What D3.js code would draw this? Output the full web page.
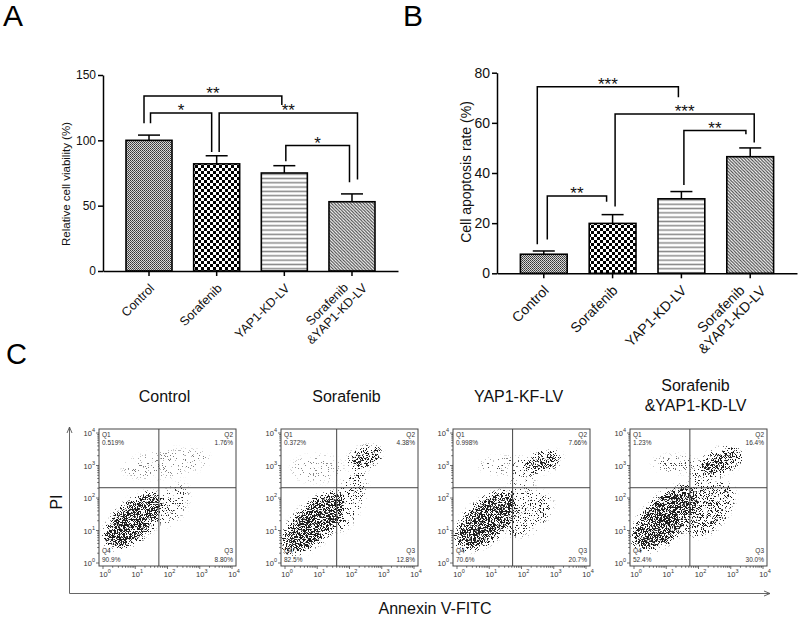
<!DOCTYPE html>
<html>
<head>
<meta charset="utf-8">
<script src="https://cdn.jsdelivr.net/npm/d3@7"></script>
<style>
  body { margin: 0; background: #fff; }
  svg { display: block; font-family: "Liberation Sans", Arial, sans-serif; }
</style>
</head>
<body>
<div id="fig"></div>
<script>
// ---- data ----
const groups = ["Control", "Sorafenib", "YAP1-KD-LV", "Sorafenib\n&YAP1-KD-LV"];

const viability = [100, 82, 75, 53];
const viabilityErr = [4, 6.2, 5.6, 6];
const viabilityTicks = [0, 50, 100, 150];

const apoptosis = [7.6, 19.9, 29.7, 46.5];
const apoptosisErr = [1.3, 3.5, 2.9, 3.5];
const apoptosisTicks = [0, 20, 40, 60, 80];

// significance brackets: [from, to, bracket level, left leg end, right leg end, label]
const viabilitySig = [
  [0, 2, 134, 113, 127, "**"],
  [0, 1, 121, 113, 91, "*"],
  [1, 3, 121, 91, 70, "**"],
  [2, 3, 96, 84, 68, "*"]
];
const apoptosisSig = [
  [0, 2, 74.4, 11.6, 70.2, "***"],
  [1, 3, 63.5, 26.6, 52.2, "***"],
  [2, 3, 56.9, 35.2, 55.5, "**"],
  [0, 1, 30.8, 13.5, 28.5, "**"]
];

// flow cytometry panels
const flowTitles = ["Control", "Sorafenib", "YAP1-KF-LV", "Sorafenib\n&YAP1-KD-LV"];
// quadrant percentages: Q1, Q2, Q3, Q4
const quadrantPct = [
  ["0.519%", "1.76%", "8.80%", "90.9%"],
  ["0.372%", "4.38%", "12.8%", "82.5%"],
  ["0.998%", "7.66%", "20.7%", "70.6%"],
  ["1.23%", "16.4%", "30.0%", "52.4%"]
];
const gateAnnexin = [54, 40, 53, 54];
const gatePI = [207, 207, 207, 207];
const flowTicks = [1, 10, 100, 1000, 10000];

// populations, in decades: [log Annexin centre, log PI centre, half length, half width, tilt deg, density]
const populations = [
  [[0.95, 1.3, 1.1, 0.55, 42, 1.0], [0.75, 1.1, 0.6, 0.35, 42, 0.3],
   [2.15, 1.8, 0.7, 0.4, 60, 0.38], [1.95, 3.05, 1.35, 0.4, 8, 0.25]],
  [[0.88, 1.22, 1.2, 0.55, 44, 1.0], [0.78, 1.05, 0.6, 0.35, 44, 0.3],
   [2.0, 1.94, 1.0, 0.38, 70, 0.5], [2.48, 3.25, 0.5, 0.28, 20, 0.9],
   [1.0, 2.9, 0.8, 0.4, 0, 0.22]],
  [[0.91, 1.3, 1.15, 0.58, 42, 1.0], [0.8, 1.2, 0.6, 0.35, 42, 0.3],
   [2.2, 1.5, 0.85, 0.5, 40, 0.55], [2.67, 3.12, 0.55, 0.27, 15, 0.85],
   [1.7, 3.0, 1.0, 0.25, 0, 0.35], [2.0, 2.4, 0.55, 0.35, 70, 0.35]],
  [[0.96, 1.37, 1.25, 0.62, 45, 1.0], [0.9, 1.3, 0.65, 0.35, 45, 0.3],
   [2.36, 1.63, 0.95, 0.5, 50, 0.75], [2.72, 3.15, 0.65, 0.33, 20, 0.9],
   [2.2, 2.6, 0.6, 0.4, 60, 0.55], [1.3, 3.05, 0.7, 0.25, 0, 0.35]]
];

// ---- drawing ----
const W = 800, H = 617;
const svg = d3.select("#fig").append("svg").attr("width", W).attr("height", H);
const defs = svg.append("defs");

// bar fill patterns
function pattern(id, size, build) {
  const p = defs.append("pattern").attr("id", id).attr("patternUnits", "userSpaceOnUse")
    .attr("width", size).attr("height", size);
  build(p);
}
pattern("pCtrl", 2, p => {
  p.append("rect").attr("width", 2).attr("height", 2).attr("fill", "#d8d8d8");
  p.append("rect").attr("width", 1).attr("height", 1).attr("fill", "#333");
  p.append("rect").attr("x", 1).attr("y", 1).attr("width", 1).attr("height", 1).attr("fill", "#555");
});
pattern("pSora", 6, p => {
  p.append("rect").attr("width", 6).attr("height", 6).attr("fill", "#fff");
  p.append("rect").attr("width", 3).attr("height", 3).attr("fill", "#000");
  p.append("rect").attr("x", 3).attr("y", 3).attr("width", 3).attr("height", 3).attr("fill", "#000");
});
pattern("pYap", 4.3, p => {
  p.append("rect").attr("width", 4.3).attr("height", 4.3).attr("fill", "#fff");
  p.append("rect").attr("y", 1.4).attr("width", 4.3).attr("height", 1.5).attr("fill", "#888");
});
pattern("pBoth", 3.2, p => {
  p.append("rect").attr("width", 3.2).attr("height", 3.2).attr("fill", "#fff");
  p.append("path").attr("d", "M-1,-1L4.2,4.2M-1,2.2L1,4.2M2.2,-1L4.2,1")
    .attr("stroke", "#444").attr("stroke-width", 1.1);
});
const fills = ["url(#pCtrl)", "url(#pSora)", "url(#pYap)", "url(#pBoth)"];

svg.append("g").selectAll("text")
  .data([["A", 3, 26, 30], ["B", 403, 26, 30], ["C", 6, 364, 29]])
  .join("text")
  .attr("x", d => d[1]).attr("y", d => d[2])
  .attr("font-size", d => d[3]).text(d => d[0]);

function barChart(opt) {
  const g = svg.append("g");
  const x = d3.scaleBand().domain(groups).range(opt.xRange)
    .paddingInner(0.32).paddingOuter(0.34);
  const y = d3.scaleLinear().domain([0, d3.max(opt.ticks)]).range(opt.yRange);
  const bw = x.bandwidth();
  const cx = i => x(groups[i]) + bw / 2;

  // bars
  g.selectAll("rect.bar").data(opt.values).join("rect")
    .attr("class", "bar")
    .attr("x", (d, i) => x(groups[i])).attr("width", bw)
    .attr("y", d => y(d)).attr("height", d => y(0) - y(d))
    .attr("fill", (d, i) => fills[i])
    .attr("stroke", "#000").attr("stroke-width", 1.6);

  // error bars (upper only)
  const eb = g.selectAll("g.err").data(opt.values).join("g").attr("class", "err")
    .attr("stroke", "#000").attr("stroke-width", 1.5);
  eb.append("line").attr("x1", (d, i) => cx(i)).attr("x2", (d, i) => cx(i))
    .attr("y1", d => y(d)).attr("y2", (d, i) => y(d + opt.err[i]));
  eb.append("line").attr("x1", (d, i) => cx(i) - 11).attr("x2", (d, i) => cx(i) + 11)
    .attr("y1", (d, i) => y(d + opt.err[i])).attr("y2", (d, i) => y(d + opt.err[i]));

  // axes
  const ya = g.append("g").attr("transform", `translate(${opt.xRange[0]},0)`)
    .call(d3.axisLeft(y).tickValues(opt.ticks).tickSize(5).tickSizeOuter(0).tickPadding(2));
  const xa = g.append("g").attr("transform", `translate(0,${y(0)})`)
    .call(d3.axisBottom(x).tickSize(5).tickSizeOuter(0).tickFormat(""));
  [ya, xa].forEach(a => {
    a.selectAll("path,line").attr("stroke", "#000").attr("stroke-width", 1.5);
    a.selectAll("text").attr("font-size", opt.tickFont).attr("fill", "#111")
      .attr("font-family", "Liberation Sans, Arial, sans-serif");
  });

  // rotated category labels
  groups.forEach((name, i) => {
    const lines = name.split("\n");
    const lh = opt.labelFont * 1.1;
    const off = (lines.length - 1) * lh / 2;
    const t = g.append("g")
      .attr("transform", `translate(${cx(i) + 6},${y(0) + opt.labelDy}) rotate(-45)`);
    const texts = lines.map((s, k) => t.append("text")
      .attr("y", k * lh - off).attr("font-size", opt.labelFont).attr("fill", "#111").text(s));
    const wm = d3.max(texts, tx => tx.node().getComputedTextLength());
    const shift = lines.length > 1 ? 7 : 0;
    texts.forEach(tx => tx.attr("x", -wm / 2 + shift).attr("text-anchor", "middle"));
  });

  // y title
  g.append("text")
    .attr("transform", `translate(${opt.titleX},${opt.titleY}) rotate(-90)`)
    .attr("text-anchor", "middle").attr("font-size", opt.titleFont).attr("fill", "#111")
    .text(opt.title);

  // significance brackets
  opt.sig.forEach((s, k) => {
    const [a, b, lvl, endA, endB, lab] = s;
    const xa0 = cx(a) + opt.legShift[k][0], xb0 = cx(b) + opt.legShift[k][1];
    g.append("path")
      .attr("d", `M${xa0},${y(endA)}V${y(lvl)}H${xb0}V${y(endB)}`)
      .attr("fill", "none").attr("stroke", "#000").attr("stroke-width", 1.5);
    g.append("text").attr("x", (xa0 + xb0) / 2).attr("y", y(lvl) + 3)
      .attr("text-anchor", "middle").attr("font-size", 17).attr("fill", "#111").text(lab);
  });
}

barChart({
  values: viability, err: viabilityErr, ticks: viabilityTicks, sig: viabilitySig,
  xRange: [103, 398], yRange: [271, 75],
  legShift: [[-5, -2.5], [1.5, -5], [2.5, 5.5], [1.5, -2.5]],
  tickFont: 12, labelFont: 12.5, labelDy: 18, titleFont: 11.5, titleX: 70, titleY: 184,
  title: "Relative cell viability (%)"
});
barChart({
  values: apoptosis, err: apoptosisErr, ticks: apoptosisTicks, sig: apoptosisSig,
  xRange: [497, 797], yRange: [273.3, 72.7],
  legShift: [[-6.5, -3], [2.5, 4], [2.5, -4.3], [3.5, -6]],
  tickFont: 14, labelFont: 14, labelDy: 18, titleFont: 14, titleX: 471, titleY: 172,
  title: "Cell apoptosis rate (%)"
});

// ---- panel C: flow cytometry ----
const boxLeft = [99, 281, 453, 630];
const boxW = 137, boxTop = 429, boxBottom = 566;

flowTitles.forEach((title, i) => {
  const L = boxLeft[i], R = L + boxW;
  const g = svg.append("g");
  const x = d3.scaleLog().domain([1, 1e4]).range([L + 4, L + 133]);
  const y = d3.scaleLog().domain([1, 1e4]).range([563, 433]);
  const pxX = (x(10) - x(1)), pxY = (y(1) - y(10));

  // stippled dot-cloud filter: blurred density shapes thresholded against noise
  const f = defs.append("filter").attr("id", "dots" + i)
    .attr("filterUnits", "userSpaceOnUse").attr("primitiveUnits", "userSpaceOnUse")
    .attr("x", L).attr("y", boxTop).attr("width", boxW).attr("height", boxBottom - boxTop)
    .attr("color-interpolation-filters", "sRGB");
  f.append("feGaussianBlur").attr("in", "SourceAlpha").attr("stdDeviation", 2.5).attr("result", "soft");
  f.append("feTurbulence").attr("type", "fractalNoise").attr("baseFrequency", 1.4)
    .attr("numOctaves", 1).attr("seed", 3 + i * 11).attr("result", "noise0");
  f.append("feComponentTransfer").attr("in", "noise0").attr("result", "noise")
    .append("feFuncA").attr("type", "linear").attr("slope", 3).attr("intercept", -1);
  f.append("feComposite").attr("in", "soft").attr("in2", "noise").attr("operator", "arithmetic")
    .attr("k1", 0).attr("k2", 1).attr("k3", 1).attr("k4", -1).attr("result", "diff");
  f.append("feComponentTransfer").attr("in", "diff").attr("result", "mask")
    .append("feFuncA").attr("type", "linear").attr("slope", 8).attr("intercept", 0);
  f.append("feFlood").attr("flood-color", "#1e1e1e").attr("result", "ink");
  f.append("feComposite").attr("in", "ink").attr("in2", "mask").attr("operator", "in");

  defs.append("clipPath").attr("id", "clip" + i)
    .append("rect").attr("x", L).attr("y", boxTop).attr("width", boxW).attr("height", boxBottom - boxTop);

  const cloud = g.append("g").attr("clip-path", `url(#clip${i})`)
    .append("g").attr("filter", `url(#dots${i})`);
  cloud.selectAll("ellipse").data(populations[i]).join("ellipse")
    .attr("transform", d => `translate(${x(Math.pow(10, d[0]))},${y(Math.pow(10, d[1]))}) rotate(${-d[4]})`)
    .attr("rx", d => d[2] * pxX).attr("ry", d => d[3] * pxY)
    .attr("fill", "#000").attr("fill-opacity", d => 0.04 + 0.55 * d[5] * d[5]);

  // box
  g.append("rect").attr("x", L).attr("y", boxTop).attr("width", boxW).attr("height", boxBottom - boxTop)
    .attr("fill", "none").attr("stroke", "#444").attr("stroke-width", 1);

  // gates
  g.append("line").attr("x1", x(gateAnnexin[i])).attr("x2", x(gateAnnexin[i]))
    .attr("y1", boxTop).attr("y2", boxBottom).attr("stroke", "#444").attr("stroke-width", 1);
  g.append("line").attr("x1", L).attr("x2", R)
    .attr("y1", y(gatePI[i])).attr("y2", y(gatePI[i])).attr("stroke", "#444").attr("stroke-width", 1);

  // log axes with minor ticks
  const allTicks = x.ticks();
  g.append("g").selectAll("line").data(allTicks).join("line")
    .attr("x1", d => x(d)).attr("x2", d => x(d))
    .attr("y1", boxBottom).attr("y2", d => boxBottom + (flowTicks.includes(d) ? 3 : 1.8))
    .attr("stroke", "#333").attr("stroke-width", 0.7);
  g.append("g").selectAll("line").data(allTicks).join("line")
    .attr("y1", d => y(d)).attr("y2", d => y(d))
    .attr("x1", L).attr("x2", d => L - (flowTicks.includes(d) ? 3 : 1.8))
    .attr("stroke", "#333").attr("stroke-width", 0.7);

  const powLabel = (sel, d) => {
    sel.append("tspan").text("10");
    sel.append("tspan").attr("dy", -4).attr("font-size", 5.5).text(Math.round(Math.log10(d)));
  };
  g.append("g").selectAll("text").data(flowTicks).join("text")
    .attr("x", d => x(d) + 2).attr("y", boxBottom + 11).attr("text-anchor", "middle")
    .attr("font-size", 7.5).attr("fill", "#333")
    .each(function (d) { powLabel(d3.select(this), d); });
  g.append("g").selectAll("text").data(flowTicks).join("text")
    .attr("x", L - 4).attr("y", d => y(d) + 3).attr("text-anchor", "end")
    .attr("font-size", 7.5).attr("fill", "#333")
    .each(function (d) { powLabel(d3.select(this), d); });

  // quadrant labels
  const q = quadrantPct[i];
  const qLab = [
    ["Q1", q[0], L + 3, "start", boxTop + 7.5],
    ["Q2", q[1], R - 3, "end", boxTop + 7.5],
    ["Q3", q[2], R - 3, "end", boxBottom - 13],
    ["Q4", q[3], L + 3, "start", boxBottom - 13]
  ];
  qLab.forEach(([name, pct, tx, anchor, ty]) => {
    g.append("text").attr("x", tx).attr("y", ty).attr("text-anchor", anchor)
      .attr("font-size", 6.5).attr("fill", "#333").text(name);
    g.append("text").attr("x", tx).attr("y", ty + 8.5).attr("text-anchor", anchor)
      .attr("font-size", 6.5).attr("fill", "#333").text(pct);
  });

  // title
  const lines = title.split("\n");
  lines.forEach((s, k) => {
    g.append("text").attr("x", L + boxW / 2 - 3)
      .attr("y", lines.length > 1 ? 390.5 + k * 20 : 402)
      .attr("text-anchor", "middle").attr("font-size", 16).attr("fill", "#111").text(s);
  });
});

// outer axes with arrows
defs.append("marker").attr("id", "arrow").attr("viewBox", "0 0 8 8").attr("refX", 7).attr("refY", 4)
  .attr("markerWidth", 8).attr("markerHeight", 8).attr("orient", "auto")
  .append("path").attr("d", "M1,1.5L7,4L1,6.5").attr("fill", "none").attr("stroke", "#555").attr("stroke-width", 0.9);
svg.append("path").attr("d", "M69.5,593.5V427").attr("stroke", "#666").attr("stroke-width", 1)
  .attr("fill", "none").attr("marker-end", "url(#arrow)");
svg.append("path").attr("d", "M69.5,593.5H770").attr("stroke", "#666").attr("stroke-width", 1)
  .attr("fill", "none").attr("marker-end", "url(#arrow)");
svg.append("text").attr("transform", "translate(62,502) rotate(-90)").attr("text-anchor", "middle")
  .attr("font-size", 16).attr("fill", "#111").text("PI");
svg.append("text").attr("x", 435).attr("y", 614).attr("text-anchor", "middle")
  .attr("font-size", 16).attr("fill", "#111").text("Annexin V-FITC");
</script>
</body>
</html>
